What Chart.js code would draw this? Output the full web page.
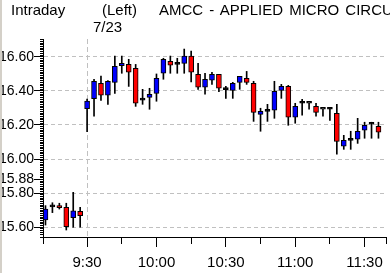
<!DOCTYPE html>
<html><head><meta charset="utf-8">
<script src="https://cdn.jsdelivr.net/npm/chart.js@4"></script>
<style>
html,body{margin:0;padding:0;background:#fff;overflow:hidden;}
#wrap{position:relative;width:390px;height:273px;overflow:hidden;}
canvas{position:absolute;left:0;top:0;}
.t{position:absolute;font-family:"Liberation Sans",Arial,sans-serif;font-size:15px;line-height:15px;white-space:nowrap;color:#000;}
#edgeL{position:absolute;left:0;top:0;width:2px;height:273px;background:#d4d0c8;}
</style></head><body>
<div id="wrap">
<canvas id="c" width="390" height="273"></canvas>
<div id="edgeL"></div>
<span class="t" style="left:11px;top:2px">Intraday</span>
<span class="t" style="left:102px;top:2px">(Left)</span>
<span class="t" style="left:159px;top:2px;word-spacing:2px">AMCC - APPLIED MICRO CIRCUITS</span>
<span class="t" style="left:93px;top:19px">7/23</span>
</div>
<script>
// candle slots: 0 = 9:30 on 7/23, negatives = previous session close
const candleIndex = [-6,-5,-4,-3,-2,-1,0,1,2,3,4,5,6,7,8,9,10,11,12,13,14,15,16,17,18,19,20,21,22,23,24,25,26,27,28,29,30,31,32,33,34,35,36,37,38,39,40,41,42];
const openP  = [15.643,15.720,15.727,15.717,15.656,15.694,16.295,16.354,16.444,16.374,16.450,16.547,16.555,16.532,16.346,16.362,16.385,16.503,16.573,16.555,16.561,16.604,16.497,16.421,16.462,16.497,16.407,16.403,16.450,16.473,16.444,16.262,16.280,16.286,16.403,16.426,16.245,16.327,16.327,16.309,16.292,16.292,16.268,16.075,16.110,16.116,16.169,16.204,16.192];
const highP  = [15.727,15.744,15.741,15.741,15.805,15.717,16.352,16.468,16.487,16.460,16.604,16.604,16.585,16.555,16.409,16.415,16.499,16.591,16.604,16.591,16.645,16.633,16.561,16.503,16.509,16.497,16.426,16.450,16.485,16.514,16.456,16.298,16.321,16.456,16.438,16.432,16.327,16.350,16.327,16.327,16.292,16.298,16.321,16.139,16.163,16.239,16.216,16.216,16.216];
const lowP   = [15.613,15.686,15.707,15.584,15.600,15.600,16.160,16.252,16.344,16.321,16.385,16.503,16.426,16.309,16.321,16.292,16.339,16.468,16.503,16.503,16.503,16.453,16.409,16.380,16.438,16.395,16.356,16.356,16.409,16.438,16.221,16.163,16.221,16.239,16.356,16.198,16.210,16.257,16.292,16.251,16.251,16.227,16.028,16.057,16.057,16.092,16.122,16.122,16.122];
const closeP = [15.707,15.720,15.715,15.604,15.696,15.668,16.340,16.456,16.374,16.456,16.544,16.561,16.509,16.327,16.346,16.380,16.473,16.585,16.550,16.555,16.604,16.509,16.421,16.468,16.497,16.415,16.407,16.444,16.485,16.450,16.274,16.280,16.280,16.397,16.426,16.245,16.309,16.327,16.327,16.274,16.292,16.292,16.104,16.110,16.110,16.163,16.198,16.204,16.157];
const xTickValues = [0,10,20,30,40];
const xTickLabels = ['9:30','10:00','10:30','11:00','11:30'];
const yTickValues = [15.60,15.80,15.88,16.00,16.20,16.40,16.60];
const prevClose = 15.88;
const sessionStart = 0;

const FONT = {family:'"Liberation Sans", Arial, sans-serif', size:15};
const YFONT = {family:'"Liberation Sans", Arial, sans-serif', size:14};
const GRID = '#c0c0c0';

const bodyColors = candleIndex.map((x,k)=> closeP[k] > openP[k] ? '#0000ff' : (closeP[k] < openP[k] ? '#ff0000' : '#000000'));

new Chart(document.getElementById('c'), {
  type:'bar',
  data:{
    datasets:[
      {
        label:'wick',
        data: candleIndex.map((x,k)=>({x:x, y:[lowP[k], highP[k]]})),
        backgroundColor:'#000', borderWidth:0, barThickness:1,
        grouped:false, order:2, clip:{left:-1,top:0,right:0,bottom:0}
      },
      {
        label:'body',
        data: candleIndex.map((x,k)=>({x:x, y:[openP[k], closeP[k]]})),
        backgroundColor: bodyColors, borderColor:'#000', borderWidth:1, borderSkipped:false,
        barThickness:5, minBarLength:2, grouped:false, order:1, clip:{left:-1,top:0,right:0,bottom:0}
      }
    ]
  },
  options:{
    responsive:false, animation:false,
    layout:{padding:{top:39,left:0,right:0,bottom:0}},
    plugins:{legend:{display:false}, tooltip:{enabled:false}, title:{display:false}},
    scales:{
      x:{
        type:'linear', position:'bottom', weight:1, offset:false,
        min:-6.357, max:43.214,
        afterBuildTicks:(s)=>{ s.ticks = xTickValues.map(v=>({value:v})); },
        afterFit:(s)=>{ s.height = 36; },
        ticks:{font:FONT, color:'#000', padding:7, maxRotation:0, autoSkip:false,
          callback:(v)=>{ const i = xTickValues.indexOf(v); return i>=0 ? xTickLabels[i] : ''; }},
        grid:{offset:false, drawOnChartArea:true, tickLength:10, tickColor:'#000', lineWidth:1,
          color:(c)=> (c.tick && c.tick.value===sessionStart) ? GRID : 'rgba(0,0,0,0)'},
        border:{display:true, color:'#000', width:1, dash:[5,3]}
      },
      xMinor:{
        type:'linear', position:'bottom', weight:0, offset:false,
        min:-6.357, max:43.214,
        afterFit:(s)=>{ s.height = 0; },
        ticks:{display:false, stepSize:5},
        grid:{offset:false, drawOnChartArea:false, tickLength:7, tickColor:'#000'},
        border:{display:false}
      },
      y:{
        type:'linear', position:'left', weight:1,
        min:15.543, max:16.704,
        afterBuildTicks:(s)=>{ s.ticks = yTickValues.map(v=>({value:v})); },
        afterFit:(s)=>{ s.width = 43; },
        ticks:{font:YFONT, color:'#000', padding:0, callback:(v)=>Number(v).toFixed(2)},
        grid:{drawOnChartArea:true, tickLength:9, tickColor:'#000',
          color:(c)=> (c.tick && Math.abs(c.tick.value-prevClose)<1e-6) ? 'rgba(0,0,0,0)' : GRID},
        border:{display:true, color:'#000', width:1, dash:[4,3]}
      },
      yMinor:{
        type:'linear', position:'left', weight:0,
        min:15.543, max:16.704,
        afterFit:(s)=>{ s.width = 0; },
        ticks:{display:false, stepSize:0.01},
        grid:{drawOnChartArea:false, tickLength:3, tickColor:'#000'},
        border:{display:false}
      }
    }
  }
});
</script>
</body></html>
